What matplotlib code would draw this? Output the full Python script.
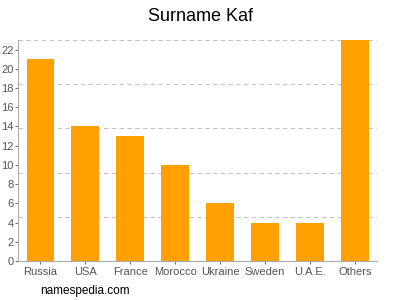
import matplotlib
matplotlib.use("Agg")
import matplotlib.pyplot as plt
import numpy as np

categories = ["Russia", "USA", "France", "Morocco", "Ukraine", "Sweden", "U.A.E.", "Others"]
values = [21, 14, 13, 10, 6, 4, 4, 23]
yticks = list(range(0, 23, 2))

plt.rcParams['font.family'] = ['Liberation Sans', 'DejaVu Sans']
fig = plt.figure(figsize=(4, 3), dpi=100)
ax = fig.add_axes([0.045, 0.13, 0.898, 0.737])

x = np.arange(len(categories))
ax.bar(x, values, width=0.62, color="#FFA000", zorder=2)
ax.set_xlim(-0.5, len(categories) - 0.5)
ax.set_ylim(0, 23)

for g in np.linspace(0, 23, 6)[1:]:
    ax.axhline(g, color="#c4c4c4", lw=0.8, ls=(0, (4, 3)), zorder=1)

ax.set_yticks(yticks)
ax.set_xticks(x)
ax.set_xticklabels(categories)
ax.tick_params(axis='x', labelsize=8, colors="#555555", length=2, width=0.6, pad=2)
ax.tick_params(axis='y', labelsize=8, colors="#555555", length=2.5, width=0.6, pad=0.5)
for s in ["top", "right"]:
    ax.spines[s].set_visible(False)
for s in ["left", "bottom"]:
    ax.spines[s].set_color("#aaaaaa")
    ax.spines[s].set_linewidth(0.8)

fig.text(0.5, 0.945, "Surname Kaf", ha="center", va="center", fontsize=13, color="#000000")
fig.text(0.1, 0.03, "namespedia.com", ha="left", va="center", fontsize=8.5, color="#000000")

fig.savefig("out.png", dpi=100)
